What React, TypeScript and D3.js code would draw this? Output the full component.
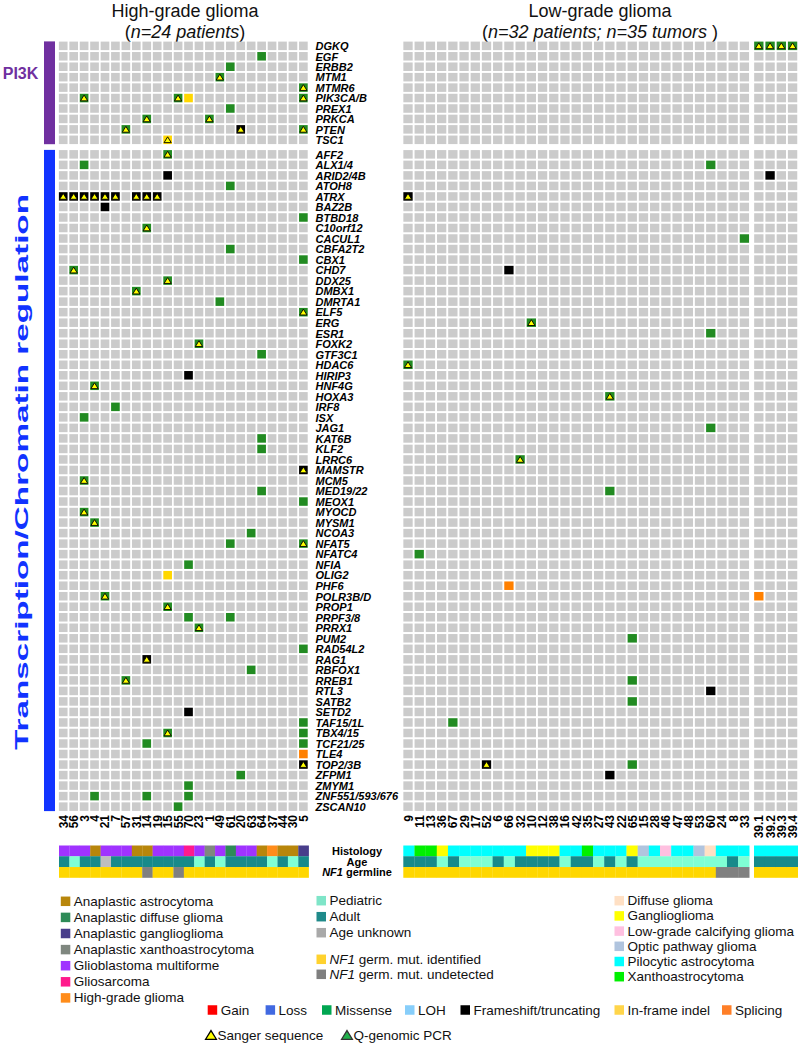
import React from "react";
import * as d3 from "d3";

// ---------- data ----------
const hggPatients = ["34","56","3","4","21","7","57","31","14","19","15","55","70","23","1","49","61","20","63","64","37","44","30","5"];
const lggPatients = ["9","11","13","36","67","29","17","52","6","66","32","10","12","38","16","42","35","27","43","22","65","15","28","46","47","48","53","60","24","8","33"];
const lggMultiTumor = ["39.1","39.2","39.3","39.4"];

const pi3kGenes = ["DGKQ","EGF","ERBB2","MTM1","MTMR6","PIK3CA/B","PREX1","PRKCA","PTEN","TSC1"];
const txGenes = ["AFF2","ALX1/4","ARID2/4B","ATOH8","ATRX","BAZ2B","BTBD18","C10orf12","CACUL1","CBFA2T2","CBX1","CHD7","DDX25","DMBX1","DMRTA1","ELF5","ERG","ESR1","FOXK2","GTF3C1","HDAC6","HIRIP3","HNF4G","HOXA3","IRF8","ISX","JAG1","KAT6B","KLF2","LRRC6","MAMSTR","MCM5","MED19/22","MEOX1","MYOCD","MYSM1","NCOA3","NFAT5","NFATC4","NFIA","OLIG2","PHF6","POLR3B/D","PROP1","PRPF3/8","PRRX1","PUM2","RAD54L2","RAG1","RBFOX1","RREB1","RTL3","SATB2","SETD2","TAF15/1L","TBX4/15","TCF21/25","TLE4","TOP2/3B","ZFPM1","ZMYM1","ZNF551/593/676","ZSCAN10"];

// [gene, patient, type, sanger]  M missense, F frameshift/truncating, I in-frame indel, S splicing
const hggMutations: [string, string, string, number][] = [
  ["EGF","64","M",0],["ERBB2","61","M",0],["MTM1","49","M",1],["MTMR6","5","M",1],
  ["PIK3CA/B","3","M",1],["PIK3CA/B","55","M",1],["PIK3CA/B","70","I",0],["PIK3CA/B","5","M",1],
  ["PREX1","61","M",0],["PRKCA","14","M",1],["PRKCA","1","M",1],
  ["PTEN","57","M",1],["PTEN","20","F",1],["PTEN","5","M",1],["TSC1","15","I",1],
  ["AFF2","15","M",1],["ALX1/4","3","M",0],["ARID2/4B","15","F",0],["ATOH8","61","M",0],
  ["ATRX","34","F",1],["ATRX","56","F",1],["ATRX","3","F",1],["ATRX","4","F",1],["ATRX","21","F",1],["ATRX","7","F",1],["ATRX","31","F",1],["ATRX","14","F",1],["ATRX","19","F",1],
  ["BAZ2B","21","F",0],["BTBD18","5","M",0],["C10orf12","14","M",1],["CBFA2T2","61","M",0],["CBX1","5","M",0],
  ["CHD7","56","M",1],["DDX25","15","M",1],["DMBX1","31","M",1],["DMRTA1","49","M",0],["ELF5","5","M",1],
  ["FOXK2","23","M",1],["GTF3C1","64","M",0],["HIRIP3","70","F",0],["HNF4G","4","M",1],["IRF8","7","M",0],
  ["ISX","3","M",0],["KAT6B","64","M",0],["KLF2","64","M",0],["MAMSTR","5","F",1],["MCM5","3","M",1],
  ["MED19/22","64","M",0],["MEOX1","5","M",0],["MYOCD","3","M",1],["MYSM1","4","M",1],["NCOA3","63","M",0],
  ["NFAT5","61","M",0],["NFAT5","5","M",1],["NFIA","70","M",0],["OLIG2","15","I",0],["POLR3B/D","21","M",1],
  ["PROP1","15","M",1],["PRPF3/8","70","M",0],["PRPF3/8","61","M",0],["PRRX1","23","M",1],["RAD54L2","5","M",0],
  ["RAG1","14","F",1],["RBFOX1","63","M",0],["RREB1","57","M",1],["SETD2","70","F",0],["TAF15/1L","5","M",0],
  ["TBX4/15","15","M",1],["TBX4/15","5","M",0],["TCF21/25","14","M",0],["TCF21/25","5","M",0],["TLE4","5","S",0],
  ["TOP2/3B","5","F",1],["ZFPM1","20","M",0],["ZMYM1","70","M",0],
  ["ZNF551/593/676","4","M",0],["ZNF551/593/676","14","M",0],["ZNF551/593/676","70","M",0],["ZSCAN10","55","M",0],
];

const lggMutations: [string, string, string, number][] = [
  ["DGKQ","39.1","M",1],["DGKQ","39.2","M",1],["DGKQ","39.3","M",1],["DGKQ","39.4","M",1],
  ["ALX1/4","60","M",0],["ARID2/4B","39.2","F",0],["ATRX","9","F",1],["CACUL1","33","M",0],
  ["CHD7","66","F",0],["ERG","10","M",1],["ESR1","60","M",0],["HDAC6","9","M",1],["HOXA3","43","M",1],
  ["JAG1","60","M",0],["LRRC6","32","M",1],["MED19/22","43","M",0],["NFATC4","11","M",0],
  ["PHF6","66","S",0],["POLR3B/D","39.1","S",0],["PUM2","65","M",0],["RREB1","65","M",0],["RTL3","60","F",0],
  ["SATB2","65","M",0],["TAF15/1L","67","M",0],["TOP2/3B","52","F",1],["TOP2/3B","65","M",0],["ZFPM1","43","F",0],
];

const hggHistology = ["GBM","GBM","GBM","AA","GBM","GBM","GBM","AA","AA","GBM","GBM","GBM","GS","GBM","AXA","GBM","ADG","GBM","GBM","AA","HGG","AA","AA","AGG"];
const hggAge = ["A","P","A","A","U","A","A","A","A","A","A","A","A","P","A","P","A","A","A","A","P","A","P","A"];
const hggNF1 = ["Y","Y","Y","Y","Y","Y","Y","Y","N","Y","Y","N","Y","Y","Y","Y","Y","Y","Y","Y","Y","Y","Y","Y"];

const lggHistology = ["PA","XA","XA","GG","PA","PA","PA","PA","PA","PA","PA","GG","GG","GG","PA","PA","XA","PA","PA","PA","GG","OPG","PA","LGCG","PA","PA","OPG","DG","PA","PA","PA"];
const lggAge = ["A","A","A","P","A","P","P","P","A","P","A","A","A","A","P","A","A","P","A","P","A","P","P","P","P","P","P","P","P","A","P"];
const lggNF1 = ["Y","Y","Y","Y","Y","Y","Y","Y","Y","Y","Y","Y","Y","Y","Y","Y","Y","Y","Y","Y","Y","Y","Y","Y","Y","Y","Y","Y","N","N","N"];
const multiHistology = ["PA","PA","PA","PA"];
const multiAge = ["A","A","A","A"];
const multiNF1 = ["Y","Y","Y","Y"];

const histLegendHGG = [
  ["AA","Anaplastic astrocytoma"],["ADG","Anaplastic diffuse glioma"],["AGG","Anaplastic ganglioglioma"],
  ["AXA","Anaplastic xanthoastrocytoma"],["GBM","Glioblastoma multiforme"],["GS","Gliosarcoma"],["HGG","High-grade glioma"],
];
const histLegendLGG = [
  ["DG","Diffuse glioma"],["GG","Ganglioglioma"],["LGCG","Low-grade calcifying glioma"],
  ["OPG","Optic pathway glioma"],["PA","Pilocytic astrocytoma"],["XA","Xanthoastrocytoma"],
];
const ageLegend = [["P","Pediatric"],["A","Adult"],["U","Age unknown"]];
const nf1Legend = [["Y","germ. mut. identified"],["N","germ. mut. undetected"]];
const mutLegend = [
  ["Gain","#FF0000"],["Loss","#4169E1"],["Missense","#00A651"],["LOH","#87CEFA"],
  ["Frameshift/truncating","#000000"],["In-frame indel","#FFD54A"],["Splicing","#FF7F27"],
];

// ---------- styles ----------
const histColor: Record<string, string> = {
  AA: "#B8860B", ADG: "#2E8B57", AGG: "#483D8B", AXA: "#7F877F", GBM: "#A033FF", GS: "#FF1A8C", HGG: "#FF8C1A",
  DG: "#FFE0C4", GG: "#FFFF00", LGCG: "#FFC0E0", OPG: "#B0C4DE", PA: "#00FFFF", XA: "#00F000",
};
const ageColor: Record<string, string> = { P: "#7FFFD4", A: "#178A8A", U: "#BEBEBE" };
const ageLegendColor: Record<string, string> = { P: "#7FE5C8", A: "#1F8A8A", U: "#A9A9A9" };
const nf1Color: Record<string, string> = { Y: "#FFD700", N: "#808080" };
const mutColor: Record<string, string> = { M: "#228B22", F: "#000000", I: "#FFD700", S: "#FF8000" };
const GREY = "#CBCBCB";
const FONT = "'Liberation Sans', Arial, Helvetica, sans-serif";

export default function App() {
  const W = 800, H = 1046;

  const xH = d3.scaleBand<string>().domain(hggPatients).range([58, 308.6]).paddingInner(0.17).paddingOuter(0.085);
  const xL = d3.scaleBand<string>().domain(lggPatients).range([402.4, 750]).paddingInner(0.17).paddingOuter(0.085);
  const xM = d3.scaleBand<string>().domain(lggMultiTumor).range([753.2, 798.2]).paddingInner(0.17).paddingOuter(0.085);
  const yP = d3.scaleBand<string>().domain(pi3kGenes).range([40.6, 145.0]).paddingInner(0.19).paddingOuter(0.095);
  const yT = d3.scaleBand<string>().domain(txGenes).range([149.1, 811.9]).paddingInner(0.19).paddingOuter(0.095);

  const yGene = (g: string) => (yP.domain().includes(g) ? yP(g)! : yT(g)!);
  const rowH = yT.bandwidth();

  const xHt = xH.copy().range([59, 308.7]).paddingInner(0).paddingOuter(0);
  const xLt = xL.copy().range([403.3, 749.3]).paddingInner(0).paddingOuter(0);
  const xMt = xM.copy().range([754, 797.8]).paddingInner(0).paddingOuter(0);
  const yTrack = d3.scaleBand<string>().domain(["Histology","Age","NF1"]).range([845.5, 877.8]);

  const allGenes = [...pi3kGenes, ...txGenes];

  const tri = (cx: number, cy: number, s: number) => {
    const p = d3.path();
    p.moveTo(cx, cy - s * 0.55);
    p.lineTo(cx + s * 0.6, cy + s * 0.42);
    p.lineTo(cx - s * 0.6, cy + s * 0.42);
    p.closePath();
    return p.toString();
  };

  const renderGrid = (x: d3.ScaleBand<string>, cols: string[], muts: [string, string, string, number][], key: string) => {
    const bw = x.bandwidth();
    const mmap = new Map<string, [string, number]>();
    muts.forEach(([g, p, t, s]) => { if (cols.includes(p)) mmap.set(g + "|" + p, [t, s]); });
    const out: React.ReactNode[] = [];
    allGenes.forEach((g) => {
      const y = yGene(g);
      cols.forEach((p) => {
        const m = mmap.get(g + "|" + p);
        const fill = m ? mutColor[m[0]] : GREY;
        out.push(<rect key={key + g + p} x={x(p)} y={y} width={bw} height={rowH} fill={fill} />);
        if (m && m[1]) {
          out.push(
            <path key={key + g + p + "t"} d={tri(x(p)! + bw / 2, y + rowH / 2 + 0.3, 6)} fill="#FFFF00" stroke="#000" strokeWidth={0.9} strokeLinejoin="round" />
          );
        }
      });
    });
    return out;
  };

  const renderTracks = (x: d3.ScaleBand<string>, cols: string[], hist: string[], age: string[], nf1: string[], key: string) => {
    const out: React.ReactNode[] = [];
    cols.forEach((p, i) => {
      out.push(<rect key={key + "h" + p} x={x(p)} y={yTrack("Histology")} width={x.bandwidth() + 0.2} height={yTrack.bandwidth() + 0.2} fill={histColor[hist[i]]} />);
      out.push(<rect key={key + "a" + p} x={x(p)} y={yTrack("Age")} width={x.bandwidth() + 0.2} height={yTrack.bandwidth() + 0.2} fill={ageColor[age[i]]} />);
      out.push(<rect key={key + "n" + p} x={x(p)} y={yTrack("NF1")} width={x.bandwidth() + 0.2} height={yTrack.bandwidth()} fill={nf1Color[nf1[i]]} />);
    });
    return out;
  };

  const colLabels = (x: d3.ScaleBand<string>, cols: string[], key: string) =>
    cols.map((p) => (
      <text key={key + p} transform={`translate(${x(p)! + x.bandwidth() / 2 + 0.5},815) rotate(-90)`} textAnchor="end" dominantBaseline="central"
        fontSize={12} fontWeight="bold" fontFamily={FONT} fill="#000">{p}</text>
    ));

  const sq = 9.5;
  const legendItem = (k: string, x: number, y: number, color: string, label: React.ReactNode, fs = 13.5) => (
    <g key={k}>
      <rect x={x} y={y - sq / 2} width={sq} height={sq} fill={color} />
      <text x={x + sq + 3.5} y={y} dominantBaseline="central" fontSize={fs} fontFamily={FONT} fill="#111">{label}</text>
    </g>
  );

  return (
    <svg width={W} height={H} style={{ position: "absolute", left: 0, top: 0, background: "#fff" }} fontFamily={FONT}>
      <rect width={W} height={H} fill="#fff" />
      {/* titles */}
      <text x={185} y={17} textAnchor="middle" fontSize={18} fill="#111">High-grade glioma</text>
      <text x={185} y={38} textAnchor="middle" fontSize={18} fill="#111">(<tspan fontStyle="italic">n=24 patients</tspan>)</text>
      <text x={600} y={17} textAnchor="middle" fontSize={18} fill="#111">Low-grade glioma</text>
      <text x={600} y={38} textAnchor="middle" fontSize={18} fill="#111">(<tspan fontStyle="italic">n=32 patients; n=35 tumors </tspan>)</text>

      {/* category bars */}
      <rect x={44} y={yP.range()[0] + 0.8} width={11} height={yP.range()[1] - yP.range()[0] - 1.6} fill="#7030A0" />
      <rect x={44} y={yT.range()[0] + 0.8} width={11} height={yT.range()[1] - yT.range()[0] - 1.6} fill="#1133FF" />
      <text x={20.5} y={73} textAnchor="middle" dominantBaseline="central" fontSize={16} fontWeight="bold" fill="#7030A0">PI3K</text>
      <text transform={`translate(22,472) rotate(-90)`} textAnchor="middle" dominantBaseline="central"
        fontSize={18} fontWeight="bold" fill="#1133FF" textLength={556} lengthAdjust="spacingAndGlyphs">Transcription/Chromatin regulation</text>

      {/* grids */}
      {renderGrid(xH, hggPatients, hggMutations, "h")}
      {renderGrid(xL, lggPatients, lggMutations, "l")}
      {renderGrid(xM, lggMultiTumor, lggMutations, "m")}

      {/* gene labels */}
      {allGenes.map((g) => (
        <text key={"g" + g} x={315.5} y={yGene(g) + rowH / 2 + 0.3} dominantBaseline="central" fontSize={11} fontWeight="bold" fontStyle="italic" fill="#000">{g}</text>
      ))}

      {/* column labels */}
      {colLabels(xH, hggPatients, "ch")}
      {colLabels(xL, lggPatients, "cl")}
      {colLabels(xM, lggMultiTumor, "cm")}

      {/* annotation tracks */}
      {renderTracks(xHt, hggPatients, hggHistology, hggAge, hggNF1, "th")}
      {renderTracks(xLt, lggPatients, lggHistology, lggAge, lggNF1, "tl")}
      {renderTracks(xMt, lggMultiTumor, multiHistology, multiAge, multiNF1, "tm")}
      <g fontSize={11} fontWeight="bold" fill="#000">
        <text x={357} y={yTrack("Histology")! + yTrack.bandwidth() / 2} textAnchor="middle" dominantBaseline="central">Histology</text>
        <text x={357} y={yTrack("Age")! + yTrack.bandwidth() / 2} textAnchor="middle" dominantBaseline="central">Age</text>
        <text x={357} y={yTrack("NF1")! + yTrack.bandwidth() / 2} textAnchor="middle" dominantBaseline="central"><tspan fontStyle="italic">NF1</tspan> germline</text>
      </g>

      {/* legends */}
      {histLegendHGG.map(([k, label], i) => legendItem("lh" + k, 60.8, 901.3 + i * 16.1, histColor[k], label))}
      {ageLegend.map(([k, label], i) => legendItem("la" + k, 316.5, 900.7 + i * 16, ageLegendColor[k], label))}
      {nf1Legend.map(([k, label], i) =>
        legendItem("ln" + k, 316.5, 959.3 + i * 15, k === "Y" ? "#FFD22E" : "#7F7F7F", <><tspan fontStyle="italic">NF1</tspan> {label}</>)
      )}
      {histLegendLGG.map(([k, label], i) => legendItem("ll" + k, 614.5, 900.7 + i * 15.2, histColor[k], label))}
      {mutLegend.map(([label, color], i) => {
        const xs = [207.7, 265.6, 322, 405, 460.5, 614.5, 722];
        return legendItem("lm" + label, xs[i], 1010, color, label);
      })}
      <path d={tri(211, 1035.5, 9)} fill="#FFFF00" stroke="#000" strokeWidth={1.3} />
      <text x={217.5} y={1035} dominantBaseline="central" fontSize={13.5} fill="#111">Sanger sequence</text>
      <path d={tri(347, 1035.5, 9)} fill="#22B14C" stroke="#333" strokeWidth={1.3} />
      <text x={353.5} y={1035} dominantBaseline="central" fontSize={13.5} fill="#111">Q-genomic PCR</text>
    </svg>
  );
}
